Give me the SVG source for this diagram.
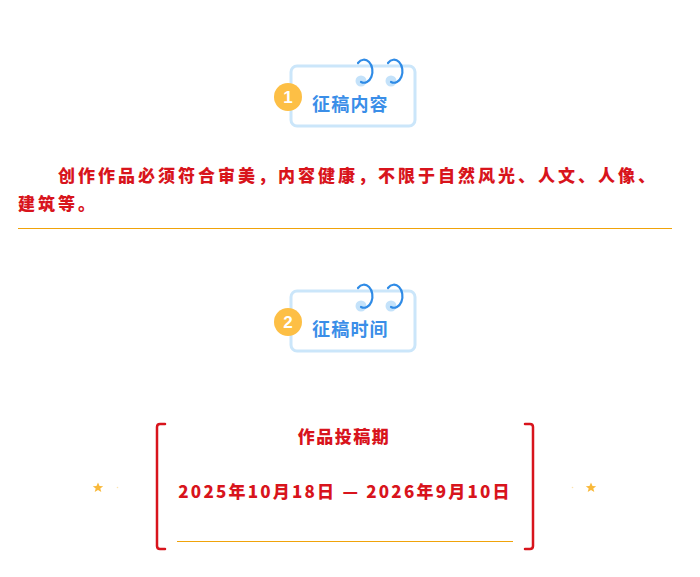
<svg xmlns="http://www.w3.org/2000/svg" width="700" height="577" viewBox="0 0 700 577">
<defs>
<style>
.box{fill:#fff;stroke:#cbe6fa;stroke-width:3}
.ringbase{fill:#c4e2fa}
.hook{fill:none;stroke:#2f8be6;stroke-width:2.2;stroke-linecap:round}
.badge{fill:#fdbf45}
.num{font-family:"Liberation Sans",Arial,sans-serif;font-weight:bold;font-size:17px;fill:#fff;text-anchor:middle}
.title{font-family:"Noto Sans CJK SC","Noto Sans",sans-serif;font-weight:bold;font-size:18px;fill:#3a8ee8;letter-spacing:1.2px}
.red{font-family:"Noto Sans CJK SC","Noto Sans",sans-serif;font-weight:900;font-size:17px;fill:#d8141c}
.line{stroke:#f0a30a;stroke-width:1.2}
.bracket{fill:none;stroke:#d8141c;stroke-width:2.5;stroke-linecap:round;stroke-linejoin:round}
.star{fill:#f9b93a}
</style>
<g id="tag">
<rect class="box" x="291" y="66" width="124" height="60" rx="6"/>
<circle class="ringbase" cx="361" cy="81" r="5.5"/>
<circle class="ringbase" cx="391" cy="81" r="5.5"/>
<path class="hook" d="M358 63 A8.5 11.5 0 1 1 361 82"/>
<path class="hook" d="M388 63 A8.5 11.5 0 1 1 391 82"/>
</g>
</defs>
<g id="section1-header">
<use href="#tag"/>
<circle class="badge" cx="288" cy="97" r="14"/>
<text class="num" x="288" y="103">1</text>
<text class="title" x="312" y="111">征稿内容</text>
</g>
<g id="content-text">
<text class="red" x="58" y="182" letter-spacing="3">创作作品必须符合审美，内容健康，不限于自然风光、人文、人像、</text>
<text class="red" x="18" y="210" letter-spacing="3">建筑等。</text>
<line class="line" x1="18" y1="228.5" x2="672" y2="228.5"/>
</g>
<g id="section2-header">
<use href="#tag" y="225"/>
<circle class="badge" cx="288" cy="322" r="14"/>
<text class="num" x="288" y="328">2</text>
<text class="title" x="312" y="336">征稿时间</text>
</g>
<g id="period-card">
<path class="bracket" d="M165 424 H160 Q157 424 157 427 V546 Q157 549 160 549 H165"/>
<path class="bracket" d="M525 424 H530 Q533 424 533 427 V546 Q533 549 530 549 H525"/>
<text class="red" x="344" y="443" text-anchor="middle" letter-spacing="1.5">作品投稿期</text>
<text class="red" x="345" y="498" text-anchor="middle" font-size="18" letter-spacing="2.2">2025年10月18日 — 2026年9月10日</text>
<line class="line" x1="177" y1="541.5" x2="513" y2="541.5"/>
</g>
<g id="stars">
<path class="star" d="M98 482.5 L99.5 486 L103.2 486.2 L100.3 488.5 L101.3 492 L98 490 L94.7 492 L95.7 488.5 L92.8 486.2 L96.5 486 Z"/>
<path class="star" d="M591 482.5 L592.5 486 L596.2 486.2 L593.3 488.5 L594.3 492 L591 490 L587.7 492 L588.7 488.5 L585.8 486.2 L589.5 486 Z"/>
<circle cx="117.5" cy="487.5" r="0.8" fill="#fbe3b0"/>
<circle cx="572.5" cy="487.5" r="0.8" fill="#fbe3b0"/>
</g>
</svg>
